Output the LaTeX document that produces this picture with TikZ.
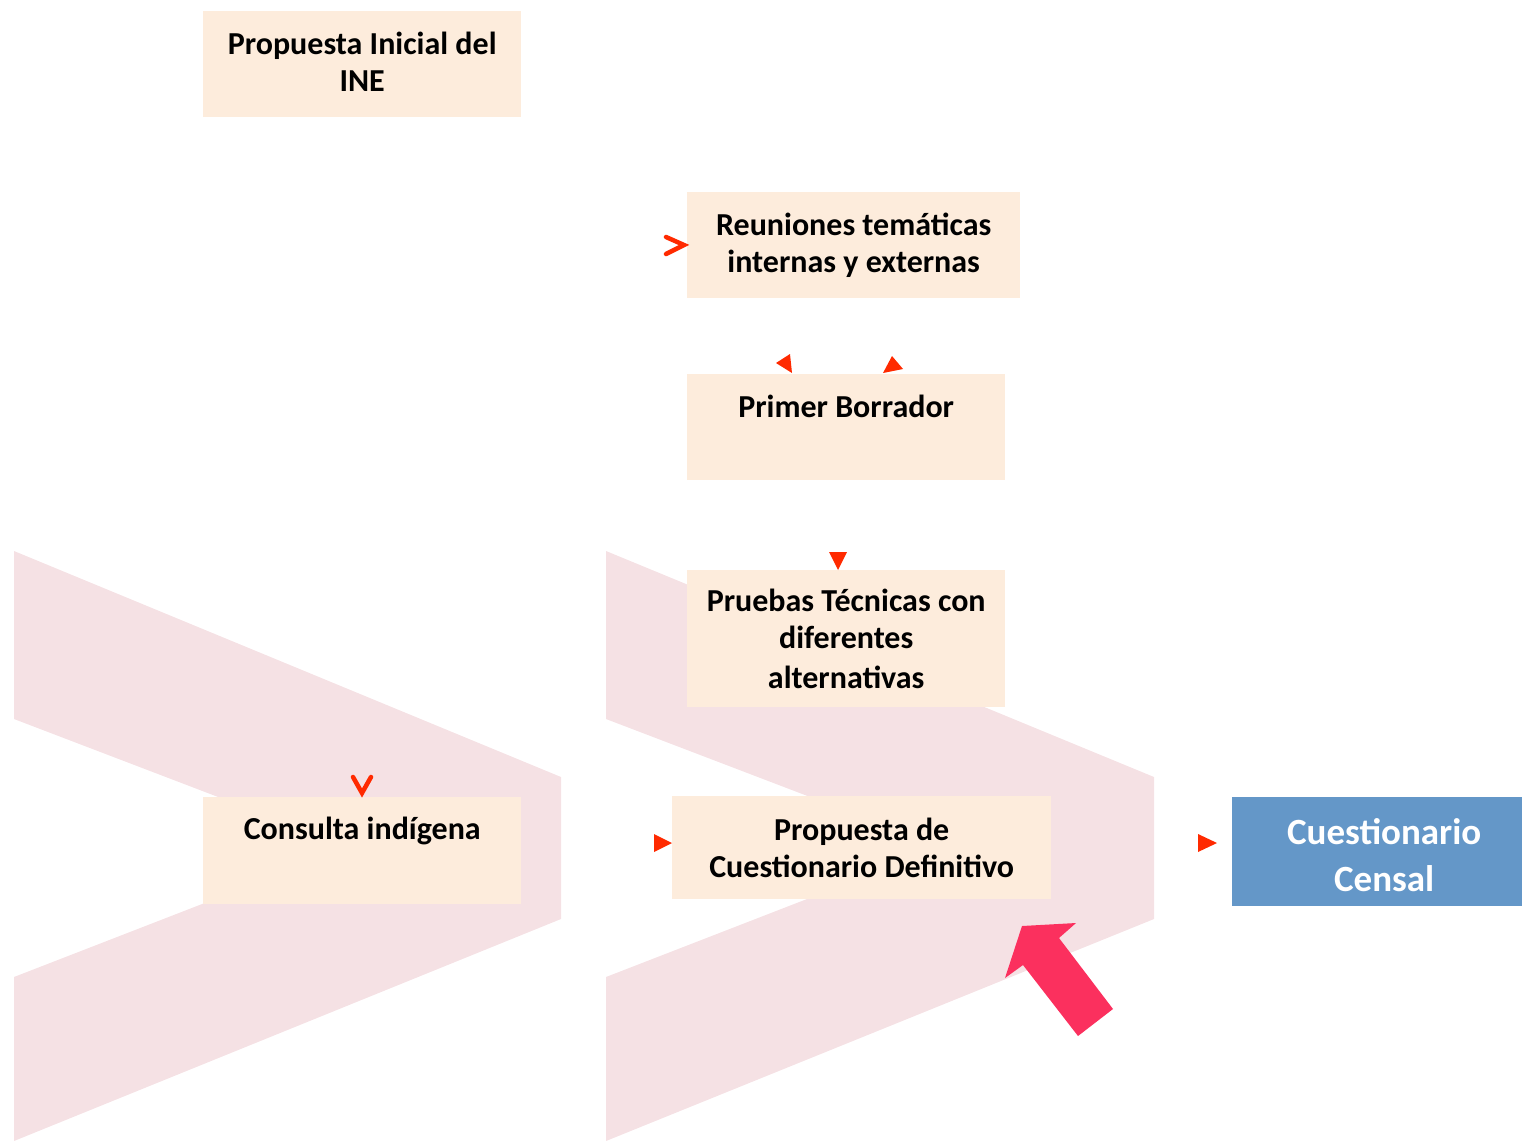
\documentclass[tikz,border=0pt]{standalone}
\usepackage{fontspec}
\setmainfont{Carlito}
\definecolor{boxfill}{HTML}{FDECDC}
\definecolor{chevfill}{HTML}{F5E1E4}
\definecolor{bluefill}{HTML}{6497C8}
\definecolor{tipred}{HTML}{FF2A00}
\definecolor{bigpink}{HTML}{FB305E}
\begin{document}
\begin{tikzpicture}[x=1pt,y=-1pt,
  box/.style={fill=boxfill, inner sep=0pt, align=center, anchor=north west,
    font=\fontsize{32}{37}\selectfont\bfseries},
  bluebox/.style={fill=bluefill, inner sep=0pt, align=center, anchor=north west,
    text=white, font=\fontsize{37}{47}\selectfont\bfseries},
  chev/.style={fill=chevfill},
  tip/.style={fill=tipred},
  opentip/.style={draw=tipred, line width=4.5pt, line cap=round, line join=miter}]
\useasboundingbox (0,0) rectangle (1522,1141);
% chevrons
\fill[chev] (14,551) -- (561,777) -- (561,919) -- (14,1141) -- (14,977) -- (349,847) -- (14,719) -- cycle;
\fill[chev] (606,551) -- (1154,777) -- (1154,919) -- (606,1141) -- (606,977) -- (941,847) -- (606,719) -- cycle;
% boxes
\node[box, minimum width=318pt, minimum height=106pt] (ini) at (203,11) {Propuesta Inicial del\\INE\rule[-4pt]{0pt}{1pt}};
\node[box, minimum width=333pt, minimum height=106pt] (reu) at (687,192) {Reuniones tem\'aticas\\internas y externas};
\node[box, minimum width=318pt, minimum height=106pt] (bor) at (687,374) {Primer Borrador\\[-6pt]\strut};
\node[box, minimum width=318pt, minimum height=137pt] (pru) at (687,570) {Pruebas T\'ecnicas con\\diferentes\\[3pt]alternativas};
\node[box, minimum width=318pt, minimum height=107pt] (con) at (203,797) {Consulta ind\'igena\\[-4pt]\strut};
\node[box, minimum width=379pt, minimum height=103pt] (pro) at (672,796) {Propuesta de\\Cuestionario Definitivo};
\node[bluebox, minimum width=290pt, minimum height=109pt] (cen) at (1232,797) {\hspace*{14pt}Cuestionario\rule{0pt}{32pt}\\\hspace*{14pt}Censal};
% arrowheads
\draw[opentip] (666,237) -- (684,245) -- (666,254);
\fill[tip] (776,363) -- (790,354) -- (792,373) -- cycle;
\fill[tip] (883,373) -- (892,356) -- (903,369) -- cycle;
\fill[tip] (829,552) -- (847,552) -- (838,570) -- cycle;
\draw[opentip] (353,777) -- (362,793) -- (371,777);
\fill[tip] (654,834) -- (654,852) -- (672,843) -- cycle;
\fill[tip] (1198,834) -- (1198,852) -- (1217,843) -- cycle;
% big arrow
\fill[bigpink] (1022,926) -- (1076,923) -- (1059,938) -- (1113,1009) -- (1078,1036) -- (1023,965) -- (1005,978) -- cycle;
\end{tikzpicture}
\end{document}
